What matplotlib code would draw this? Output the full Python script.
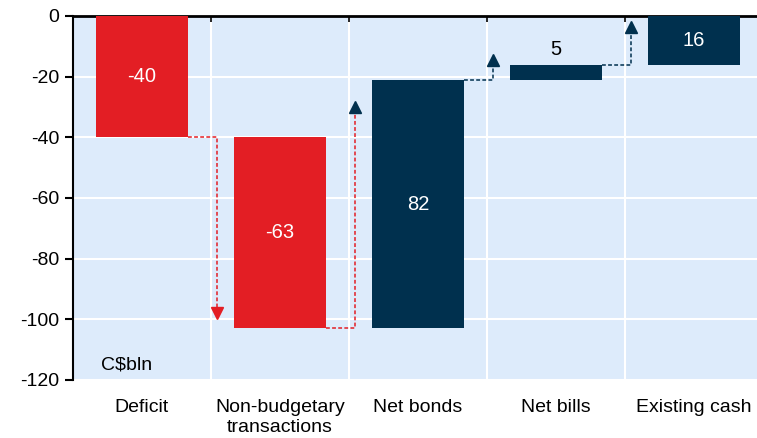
import matplotlib
matplotlib.use("Agg")
import matplotlib.pyplot as plt
import numpy as np

plt.rcParams['font.family'] = ['Liberation Sans', 'DejaVu Sans']
plt.rcParams['axes.unicode_minus'] = False

# waterfall data, C$bln
categories = ['Deficit', 'Non-budgetary\ntransactions', 'Net bonds', 'Net bills', 'Existing cash']
changes = [-40, -63, 82, 5, 16]
# where each connector arrow stops
arrow_tips = [-98, -30, -14.5, -3.6]
label_levels = [-20, -71.5, -62, -11, -8]

RED = '#E31E24'
NAVY = '#00304E'
BG = '#DDEBFB'

starts = np.concatenate([[0], np.cumsum(changes)[:-1]])
ends = starts + np.array(changes)
colors = [RED if c < 0 else NAVY for c in changes]
txtcol = ['white', 'white', 'white', 'black', 'white']

fig = plt.figure(figsize=(7.57, 4.38), dpi=100)
ax = fig.add_axes([73 / 757, 1 - 380 / 438, 1 - 73 / 757, 364 / 438])
ax.set_facecolor(BG)

x = np.arange(len(categories))
w = 0.667
ax.bar(x, np.array(changes), bottom=starts, width=w, color=colors, zorder=3)

for i in range(len(categories)):
    ax.text(x[i], label_levels[i], str(changes[i]), ha='center', va='center',
            color=txtcol[i], fontsize=14.5, zorder=5)

# dashed connectors with arrowheads
for i in range(len(categories) - 1):
    lc = RED if changes[i] < 0 else NAVY
    hc = RED if changes[i + 1] < 0 and changes[i] < 0 else NAVY
    xs = x[i] + w / 2
    xe = x[i] + 0.5 + 0.04
    y0 = ends[i]
    ax.plot([xs, xe, xe], [y0, y0, arrow_tips[i]], ls=(0, (2.5, 1.5)), lw=1.1,
            color=lc, zorder=4)
    ax.plot([xe], [arrow_tips[i]], marker='v' if arrow_tips[i] < y0 else '^',
            ms=8, color=hc, zorder=4)

ax.text(-0.3, -115, 'C$bln', fontsize=14, ha='left', va='center', zorder=5)

ax.set_ylim(-120, 0)
ax.set_yticks(np.arange(-120, 1, 20))
ax.set_xlim(-0.5, -0.5 + 684 / 138)
ax.set_xticks(x)
ax.set_xticklabels(categories, fontsize=14)
ax.set_xticks(np.arange(0.5, len(categories) - 0.5, 1), minor=True)
ax.tick_params(axis='x', which='major', length=0, pad=14)
ax.tick_params(axis='x', which='minor', bottom=False, top=True, direction='in',
               length=4, width=1.2, color='black')
ax.tick_params(axis='y', labelsize=14, length=6, width=1.5, pad=4)

ax.grid(True, axis='y', color='white', lw=1.5, zorder=1)
ax.grid(True, axis='x', which='minor', color='white', lw=1.5, zorder=1)
ax.set_axisbelow(True)

for s in ['right', 'bottom']:
    ax.spines[s].set_visible(False)
ax.spines['top'].set_linewidth(2)
ax.spines['left'].set_linewidth(1.5)

fig.savefig('out.png', dpi=100)
